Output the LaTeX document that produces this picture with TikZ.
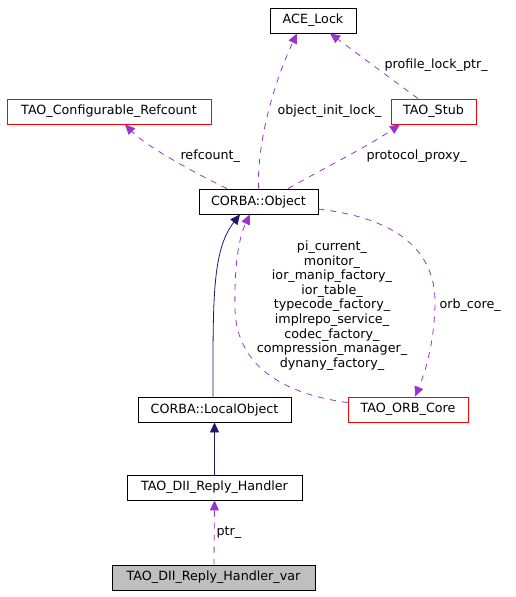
\documentclass[tikz,border=0pt]{standalone}
\usepackage{fontspec}
\setmainfont{DejaVu Sans}
\usetikzlibrary{positioning, shapes, arrows.meta}
\definecolor{usecol}{RGB}{154,50,205}
\definecolor{inhcol}{RGB}{25,25,112}
\begin{document}
\begin{tikzpicture}[x=1pt,y=-1pt,font=\fontsize{12.7}{14.6}\selectfont,
    cls/.style={rectangle, draw, minimum height=25pt, inner sep=0pt, line width=0.8pt},
    redcls/.style={cls, draw=red},
    usedge/.style={usecol, line width=0.8pt, dash pattern=on 6pt off 6pt, -{Triangle[length=10pt,width=9pt]}},
    inhedge/.style={inhcol, line width=0.8pt, -{Triangle[length=10pt,width=9pt]}}]
    \useasboundingbox (0,0) rectangle (515,597);
    \node[cls, minimum width=86pt] (ace) at (313,20.5) {ACE\_Lock};
    \node[redcls, minimum width=204pt] (refc) at (109,111.5) {TAO\_Configurable\_Refcount};
    \node[redcls, minimum width=85pt] (stub) at (433.5,111.5) {TAO\_Stub};
    \node[cls, minimum width=119pt] (obj) at (258.5,201.5) {CORBA::Object};
    \node[cls, minimum width=153pt] (lobj) at (214.5,409.5) {CORBA::LocalObject};
    \node[redcls, minimum width=120pt] (orb) at (408,409.5) {TAO\_ORB\_Core};
    \node[cls, minimum width=175pt] (hdl) at (214.5,487.5) {TAO\_DII\_Reply\_Handler};
    \node[cls, minimum width=203pt, fill=black!25] (var) at (213.5,577.5) {TAO\_DII\_Reply\_Handler\_var};

    \draw[usedge] (obj.north) .. controls (257,140) and (275,80) .. ([xshift=-16pt]ace.south);
    \draw[usedge] ([xshift=-15.5pt]stub.north) -- ([xshift=17pt]ace.south);
    \draw[usedge] ([xshift=-31.5pt]obj.north) .. controls (185,168) and (145,145) .. ([xshift=16pt]refc.south);
    \draw[usedge] ([xshift=29.5pt]obj.north) .. controls (330,165) and (370,145) .. ([xshift=-33.5pt]stub.south);
    \draw[usedge] ([yshift=-7.5pt]obj.east) .. controls (410,220) and (436,260) .. (435,305)
        .. controls (434,350) and (422,380) .. ([xshift=7pt]orb.north);
    \draw[usedge] ([yshift=7pt]orb.west) .. controls (290,395) and (237,370) .. (235,310)
        .. controls (234,260) and (240,235) .. ([xshift=-8.5pt]obj.south);
    \draw[inhedge] ([xshift=-1.5pt]lobj.north) .. controls (213,300) and (212,250) .. ([xshift=-18.5pt]obj.south);
    \draw[inhedge] (hdl.north) -- (lobj.south);
    \draw[usedge] ([xshift=0.5pt]var.north) -- (hdl.south);

    \node[anchor=west] (lbllock) at (381,65) {profile\_lock\_ptr\_};
    \node[anchor=west] (lblinit) at (274,111) {object\_init\_lock\_};
    \node[anchor=west] (lblrefc) at (177,156) {refcount\_};
    \node[anchor=west] (lblproxy) at (363,156) {protocol\_proxy\_};
    \node[align=center] (lblorbuse) at (332,305.5) {pi\_current\_\\monitor\_\\ior\_manip\_factory\_\\ior\_table\_\\typecode\_factory\_\\implrepo\_service\_\\codec\_factory\_\\compression\_manager\_\\dynany\_factory\_};
    \node[anchor=west] (lblorb) at (436,305) {orb\_core\_};
    \node[anchor=west] (lblptr) at (213,533) {ptr\_};
\end{tikzpicture}
\end{document}
